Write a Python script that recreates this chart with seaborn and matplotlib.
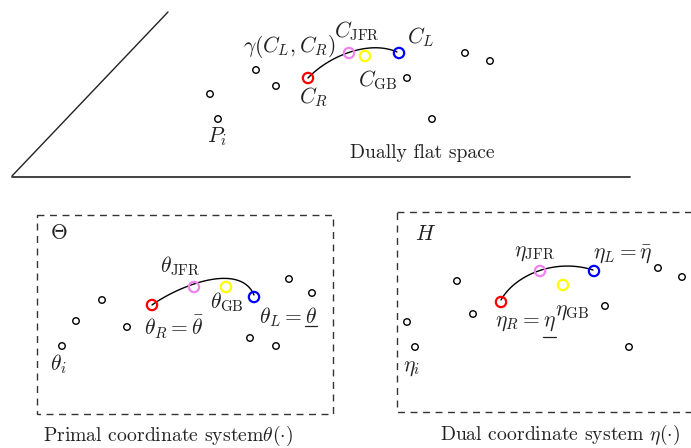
import numpy as np
import pandas as pd
import matplotlib
matplotlib.use("Agg")
import matplotlib.pyplot as plt
import seaborn as sns
from matplotlib.patches import Rectangle

# diagram drawn in pixel coordinates of the 691x448 reference
# plain sample points of each panel
top_x = [210, 256, 276, 218, 407, 432, 465, 490]
top_y = [94, 70, 86, 119, 78, 119, 53, 61]
primal_x = [102, 76, 62, 127, 289, 312, 250, 276]
primal_y = [300, 321, 346, 327, 279, 293, 338, 346]
dual_x = [457, 473, 407, 415, 605, 629, 658, 682]
dual_y = [281, 314, 322, 347, 306, 347, 268, 277]

# coloured centroids: R, JFR, GB, L
centroid_names = ["R", "JFR", "GB", "L"]
centroid_colors = ["red", "violet", "yellow", "blue"]
top_cx = [308, 349, 365, 399]
top_cy = [78, 53, 56, 53]
primal_cx = [152, 194, 226, 254]
primal_cy = [305, 287, 287, 297]
dual_cx = [501, 540, 563, 594]
dual_cy = [302, 271, 285, 271]

# cubic bezier control points of the geodesic gamma(C_L, C_R)
top_curve = [(308, 78), (330, 55), (370, 40), (397, 52)]
primal_curve = [(152, 305), (180, 285), (240, 262), (254, 295)]
dual_curve = [(501, 300), (515, 275), (555, 258), (593, 270)]

sns.set_theme(style="white")
plt.rcParams["font.family"] = "serif"
plt.rcParams["font.serif"] = ["cmr10", "DejaVu Serif"]
plt.rcParams["mathtext.fontset"] = "cm"
plt.rcParams["axes.unicode_minus"] = False

fig = plt.figure(figsize=(6.91, 4.48), dpi=100)
ax = fig.add_axes([0, 0, 1, 1])


def bezier(pts, n=80):
    p = np.array(pts, dtype=float)
    t = np.linspace(0, 1, n)[:, None]
    b = ((1 - t) ** 3 * p[0] + 3 * (1 - t) ** 2 * t * p[1]
         + 3 * (1 - t) * t ** 2 * p[2] + t ** 3 * p[3])
    return pd.DataFrame({"x": b[:, 0], "y": b[:, 1]})


# top panel frame (the flat space)
ax.plot([12, 168], [176, 12], color="#222222", lw=1)
ax.plot([12, 630], [177, 177], color="#333333", lw=1.3)

# dashed coordinate boxes
ax.add_patch(Rectangle((37, 215), 296, 199, fill=False, ec="#333333",
                       lw=1, ls=(0, (5, 4))))
ax.add_patch(Rectangle((397, 212), 310, 200, fill=False, ec="#333333",
                       lw=1, ls=(0, (5, 4))))

for curve in [top_curve, primal_curve, dual_curve]:
    sns.lineplot(data=bezier(curve), x="x", y="y", sort=False,
                 color="black", lw=1, ax=ax)

for xs, ys in [(top_x, top_y), (primal_x, primal_y), (dual_x, dual_y)]:
    sns.scatterplot(x=xs, y=ys, s=22, facecolor="none", edgecolor="black",
                    linewidth=1, ax=ax, zorder=3)

for cx, cy in [(top_cx, top_cy), (primal_cx, primal_cy), (dual_cx, dual_cy)]:
    for x, y, c in zip(cx, cy, centroid_colors):
        sns.scatterplot(x=[x], y=[y], s=55, facecolor="none", edgecolor=c,
                        linewidth=1.6, ax=ax, zorder=4)

ax.set_xlim(0, 691)
ax.set_ylim(448, 0)
ax.axis("off")

fm = 15.5
ft = 14.2
kw = dict(ha="center", va="center", fontsize=fm, color="#222222")
kt = dict(ha="center", va="center", fontsize=ft, color="#222222")

# top panel labels
ax.text(289, 46, r"$\gamma(C_L, C_R)$", **kw)
ax.text(357, 31, r"$C_{\mathrm{JFR}}$", **kw)
ax.text(421, 37, r"$C_L$", **kw)
ax.text(378, 80, r"$C_{\mathrm{GB}}$", **kw)
ax.text(313, 97, r"$C_R$", **kw)
ax.text(217, 137, r"$P_i$", **kw)
ax.text(422, 153, "Dually flat space", **kt)

# primal panel labels
ax.text(59, 233, r"$\Theta$", **kw)
ax.text(180, 266, r"$\theta_{\mathrm{JFR}}$", **kw)
ax.text(227, 302, r"$\theta_{\mathrm{GB}}$", **kw)
ax.text(174, 327, r"$\theta_R = \bar{\theta}$", **kw)
ax.text(58, 364, r"$\theta_i$", **kw)
ax.text(168, 436, r"Primal coordinate system$\theta(\cdot)$", **kt)

# dual panel labels
ax.text(426, 234, r"$H$", **kw)
ax.text(535, 253, r"$\eta_{\mathrm{JFR}}$", **kw)
ax.text(623, 255, r"$\eta_L = \bar{\eta}$", **kw)
ax.text(572, 312, r"$\eta_{\mathrm{GB}}$", **kw)
ax.text(412, 368, r"$\eta_i$", **kw)
ax.text(560, 435, r"Dual coordinate system $\eta(\cdot)$", **kt)

# labels whose last symbol is underlined
fig.canvas.draw()
renderer = fig.canvas.get_renderer()
inv = ax.transData.inverted()
for left, y, head, sym, uy in [(259, 317, r"$\theta_L = $", r"$\theta$", 326),
                               (495, 323, r"$\eta_R = $", r"$\eta$", 337)]:
    t1 = ax.text(left, y, head, ha="left", va="center", fontsize=fm,
                 color="#222222")
    bb = t1.get_window_extent(renderer)
    x_end = inv.transform((bb.x1, bb.y0))[0]
    t2 = ax.text(x_end + 3, y, sym, ha="left", va="center", fontsize=fm,
                 color="#222222")
    bb2 = t2.get_window_extent(renderer)
    x0 = inv.transform((bb2.x0, 0))[0]
    x1 = inv.transform((bb2.x1, 0))[0]
    ax.plot([x0, x1], [uy, uy], color="#222222", lw=0.9)

fig.savefig("out.png", dpi=100)
